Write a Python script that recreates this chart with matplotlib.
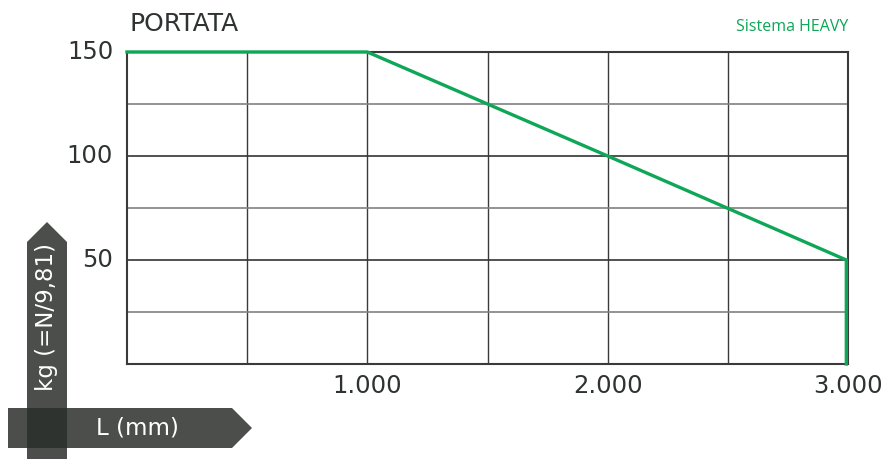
import matplotlib
matplotlib.use("Agg")
import matplotlib.pyplot as plt
from matplotlib.patches import Polygon

# data
length_mm = [0, 1000, 2000, 3000, 3000]
load_kg = [150, 150, 100, 50, 0]
x_ticks = [1000, 2000, 3000]
x_tick_labels = ["1.000", "2.000", "3.000"]
y_ticks = [50, 100, 150]
y_tick_labels = ["50", "100", "150"]

W, H = 886, 459
fig = plt.figure(figsize=(W / 100, H / 100), dpi=100)
ax = fig.add_axes([127 / W, 1 - 364 / H, (848 - 127) / W, (364 - 52) / H])
ax.set_xlim(0, 3000)
ax.set_ylim(0, 150)

green = "#0ea657"
dark = "#2e3232"

# grid
for x in [500, 1000, 1500, 2000, 2500]:
    ax.axvline(x, color="#3a3a3a", lw=1.0, zorder=1)
for y in [25, 75, 125]:
    ax.axhline(y, color="#808080", lw=1.2, zorder=1)
for y in [50, 100]:
    ax.axhline(y, color="#333333", lw=1.2, zorder=1)

ax.plot([v if v < 3000 else 2993 for v in length_mm], load_kg,
        color=green, lw=2.4, zorder=3, solid_joinstyle="miter", clip_on=False)

for s in ax.spines.values():
    s.set_color("#3a3a3a")
    s.set_linewidth(1.5)

ax.set_xticks(x_ticks)
ax.set_xticklabels(x_tick_labels)
ax.set_yticks(y_ticks)
ax.set_yticklabels(y_tick_labels)
ax.tick_params(axis="both", length=0, labelsize=17.5, labelcolor=dark)
ax.tick_params(axis="x", pad=7)
ax.tick_params(axis="y", pad=10)
for lbl in ax.get_xticklabels():
    lbl.set_horizontalalignment("center")
for lbl in ax.get_yticklabels():
    lbl.set_verticalalignment("center")

fig.text(130 / W, 1 - 24 / H, "PORTATA", fontsize=18, color=dark, va="center", ha="left")
fig.text(848 / W, 1 - 27 / H, "Sistema HEAVY", fontsize=11.5, color=green,
         va="center", ha="right", family="Open Sans")


def px(x, y):
    return (x / W, 1 - y / H)


arrow_color = "#2b2f2b"
vert = Polygon([px(27, 459), px(27, 242), px(47, 222), px(67, 242), px(67, 459)],
               closed=True, transform=fig.transFigure, facecolor=arrow_color,
               alpha=0.85, edgecolor="none")
horiz = Polygon([px(8, 408), px(232, 408), px(252, 428), px(232, 448), px(8, 448)],
                closed=True, transform=fig.transFigure, facecolor=arrow_color,
                alpha=0.85, edgecolor="none")
fig.patches.extend([vert, horiz])

fig.text(47 / W, 1 - 317 / H, "kg (=N/9,81)", fontsize=16.5, color="white",
         rotation=90, ha="center", va="center")
fig.text(137 / W, 1 - 428 / H, "L (mm)", fontsize=16.5, color="white",
         ha="center", va="center")

fig.savefig("out.png", dpi=100)
